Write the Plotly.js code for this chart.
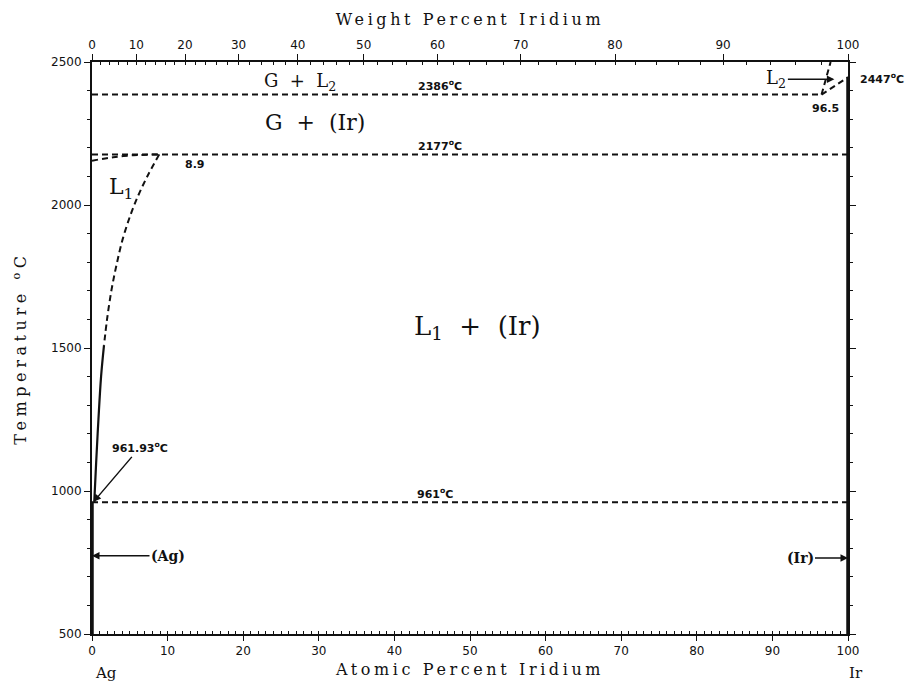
<!DOCTYPE html>
<html><head><meta charset="utf-8">
<script src="https://cdn.plot.ly/plotly-3.0.1.min.js"></script>
<style>
body{margin:0;background:#fff}
#chart{width:915px;height:686px}
.xtitle,.x2title{letter-spacing:3.6px}
.ytitle{letter-spacing:4.6px}
</style>
</head><body><div id="chart"></div>
<script>
// ---- data (atomic % Ir, temperature °C) ----
const line961_x = [0, 100];        const line961_T = [961, 961];
const line2177_x = [0, 100];       const line2177_T = [2177, 2177];
const line2386_x = [0, 96.5];      const line2386_T = [2386, 2386];
const l2Liquidus_x = [96.5, 100];  const l2Liquidus_T = [2386, 2447];
const l2Gas_x = [96.5, 97.7];      const l2Gas_T = [2386, 2500];
const l1Gas_x = [0, 2.8, 5.5, 8.9];          const l1Gas_T = [2155, 2167, 2174, 2177];
const l1LiqDash_x = [8.9, 7.41, 6.15, 5.09, 4.03, 3.24, 2.58, 1.98, 1.59];
const l1LiqDash_T = [2177, 2105, 2035, 1965, 1878, 1790, 1703, 1598, 1510];
const l1LiqSolid_x = [1.59, 1.2, 0.85, 0.55, 0.3];
const l1LiqSolid_T = [1510, 1400, 1250, 1100, 962];
const agSolid_x = [0, 0];          const agSolid_T = [500, 961];
const irSolid_x = [100, 100];      const irSolid_T = [500, 2447];

// tick labels
const wtMajor = [0,10,20,30,40,50,60,70,80,90,100];
const wtMinor = [];
for (let w = 0; w <= 100; w += 2) wtMinor.push(w);
const AG = 107.8682, IR = 192.217;
function wtToAt(w){ if (w >= 100) return 100; const a = w/IR, b = (100-w)/AG; return 100*a/(a+b); }

const black = '#111';
const dash = '6px,4px';
function tr(x, y, opts){
  return Object.assign({x:x, y:y, type:'scatter', mode:'lines', hoverinfo:'skip', showlegend:false,
    line:{color:black, width:2, dash:dash}}, opts||{});
}
const traces = [
  tr(line961_x, line961_T),
  tr(line2177_x, line2177_T),
  tr(line2386_x, line2386_T),
  tr(l2Liquidus_x, l2Liquidus_T),
  tr(l2Gas_x, l2Gas_T),
  tr(l1Gas_x, l1Gas_T, {line:{color:black, width:2, dash:dash, shape:'spline', smoothing:0.8}}),
  tr(l1LiqDash_x, l1LiqDash_T, {line:{color:black, width:2, dash:dash, shape:'spline', smoothing:1}}),
  tr(l1LiqSolid_x, l1LiqSolid_T, {line:{color:black, width:2.2, shape:'spline', smoothing:1}}),
  tr(agSolid_x, agSolid_T, {line:{color:black, width:3.5}}),
  tr(irSolid_x, irSolid_T, {line:{color:black, width:3.5}}),
  // invisible traces to activate top axes
  {x:[0,100], y:[500,500], xaxis:'x2', yaxis:'y', mode:'markers', marker:{opacity:0}, hoverinfo:'skip', showlegend:false},
  {x:[0,100], y:[500,500], xaxis:'x3', yaxis:'y', mode:'markers', marker:{opacity:0}, hoverinfo:'skip', showlegend:false}
];

const tickFont = {family:'DejaVu Sans', size:12, color:black};
const titleFont = {family:'DejaVu Serif', size:16, color:black};
const serif = 'DejaVu Serif';
const small = {family:'DejaVu Sans', size:11, color:black, weight:'bold'};

function txt(x, y, text, font, extra){
  return Object.assign({x:x, y:y, xref:'x', yref:'y', text:text, showarrow:false, font:font}, extra||{});
}
function arr(x, y, ax, ay, text, font){
  return {x:x, y:y, xref:'x', yref:'y', text:text, showarrow:true, ax:ax, ay:ay,
    arrowhead:2, arrowsize:1, arrowwidth:1.5, arrowcolor:black, font:font};
}

const annotations = [
  txt(27.5, 2430, 'G  +  L<sub>2</sub>', {family:serif, size:18, color:black}),
  txt(46, 2418, '2386<sup>o</sup>C', small),
  txt(29.5, 2287, 'G  +  (Ir)', {family:serif, size:22, color:black}),
  txt(46, 2208, '2177<sup>o</sup>C', small),
  txt(13.6, 2140, '8.9', small),
  txt(3.9, 2059, 'L<sub>1</sub>', {family:serif, size:22, color:black}),
  txt(51, 1573, 'L<sub>1</sub>  +  (Ir)', {family:serif, size:26, color:black}),
  txt(45.4, 990, '961<sup>o</sup>C', small),
  txt(97, 2339, '96.5', small),
  txt(100, 2444, '2447<sup>o</sup>C', small, {xanchor:'left', xshift:10}),
  arr(0.2, 962, 46, -54, '961.93<sup>o</sup>C', small),
  arr(0, 774, 76, 0, '(Ag)', {family:serif, size:14, color:black, weight:'bold'}),
  arr(100, 766, -48, 0, '(Ir)', {family:serif, size:14, color:black, weight:'bold'}),
  arr(98.2, 2440, -58, 0, 'L<sub>2</sub>', {family:serif, size:18, color:black}),
  {x:0, y:-0.088, xref:'x', yref:'paper', text:'Ag', showarrow:false, font:{family:serif, size:15, color:black}, xshift:14},
  {x:100, y:-0.088, xref:'x', yref:'paper', text:'Ir', showarrow:false, font:{family:serif, size:15, color:black}, xshift:8}
];

const layout = {
  width:915, height:686,
  margin:{l:92, r:67, t:62, b:52},
  paper_bgcolor:'#fff', plot_bgcolor:'#fff',
  showlegend:false,
  xaxis:{range:[0,100], showgrid:false, zeroline:false, showline:true, linecolor:black, linewidth:2,
    tickmode:'linear', tick0:0, dtick:10, ticks:'outside', ticklen:5, tickcolor:black, tickfont:tickFont,
    minor:{dtick:1, ticks:'inside', ticklen:3, tickcolor:black, showgrid:false},
    title:{text:'Atomic Percent Iridium', font:titleFont, standoff:6}},
  xaxis2:{overlaying:'x', side:'top', range:[0,100], showgrid:false, zeroline:false, showline:true, linecolor:black, linewidth:2,
    tickmode:'array', tickvals:wtMajor.map(wtToAt), ticktext:wtMajor.map(String),
    ticks:'outside', ticklen:6, tickcolor:black, tickfont:tickFont,
    title:{text:'Weight Percent Iridium', font:titleFont, standoff:9}},
  xaxis3:{overlaying:'x', side:'top', range:[0,100], showgrid:false, zeroline:false, showline:false,
    tickmode:'array', tickvals:wtMinor.map(wtToAt), ticktext:wtMinor.map(()=>''),
    ticks:'inside', ticklen:3, tickcolor:black, showticklabels:false},
  yaxis:{range:[500,2500], showgrid:false, zeroline:false, showline:true, linecolor:black, linewidth:2, mirror:'ticks',
    tickmode:'linear', tick0:500, dtick:500, ticks:'outside', ticklen:6, tickcolor:black, tickfont:tickFont,
    minor:{dtick:100, ticks:'outside', ticklen:3, tickcolor:black, showgrid:false},
    title:{text:'Temperature <sup>o</sup>C', font:titleFont, standoff:20}},
  annotations:annotations
};

Plotly.newPlot('chart', traces, layout, {displayModeBar:false, staticPlot:true});
</script>
</body></html>
